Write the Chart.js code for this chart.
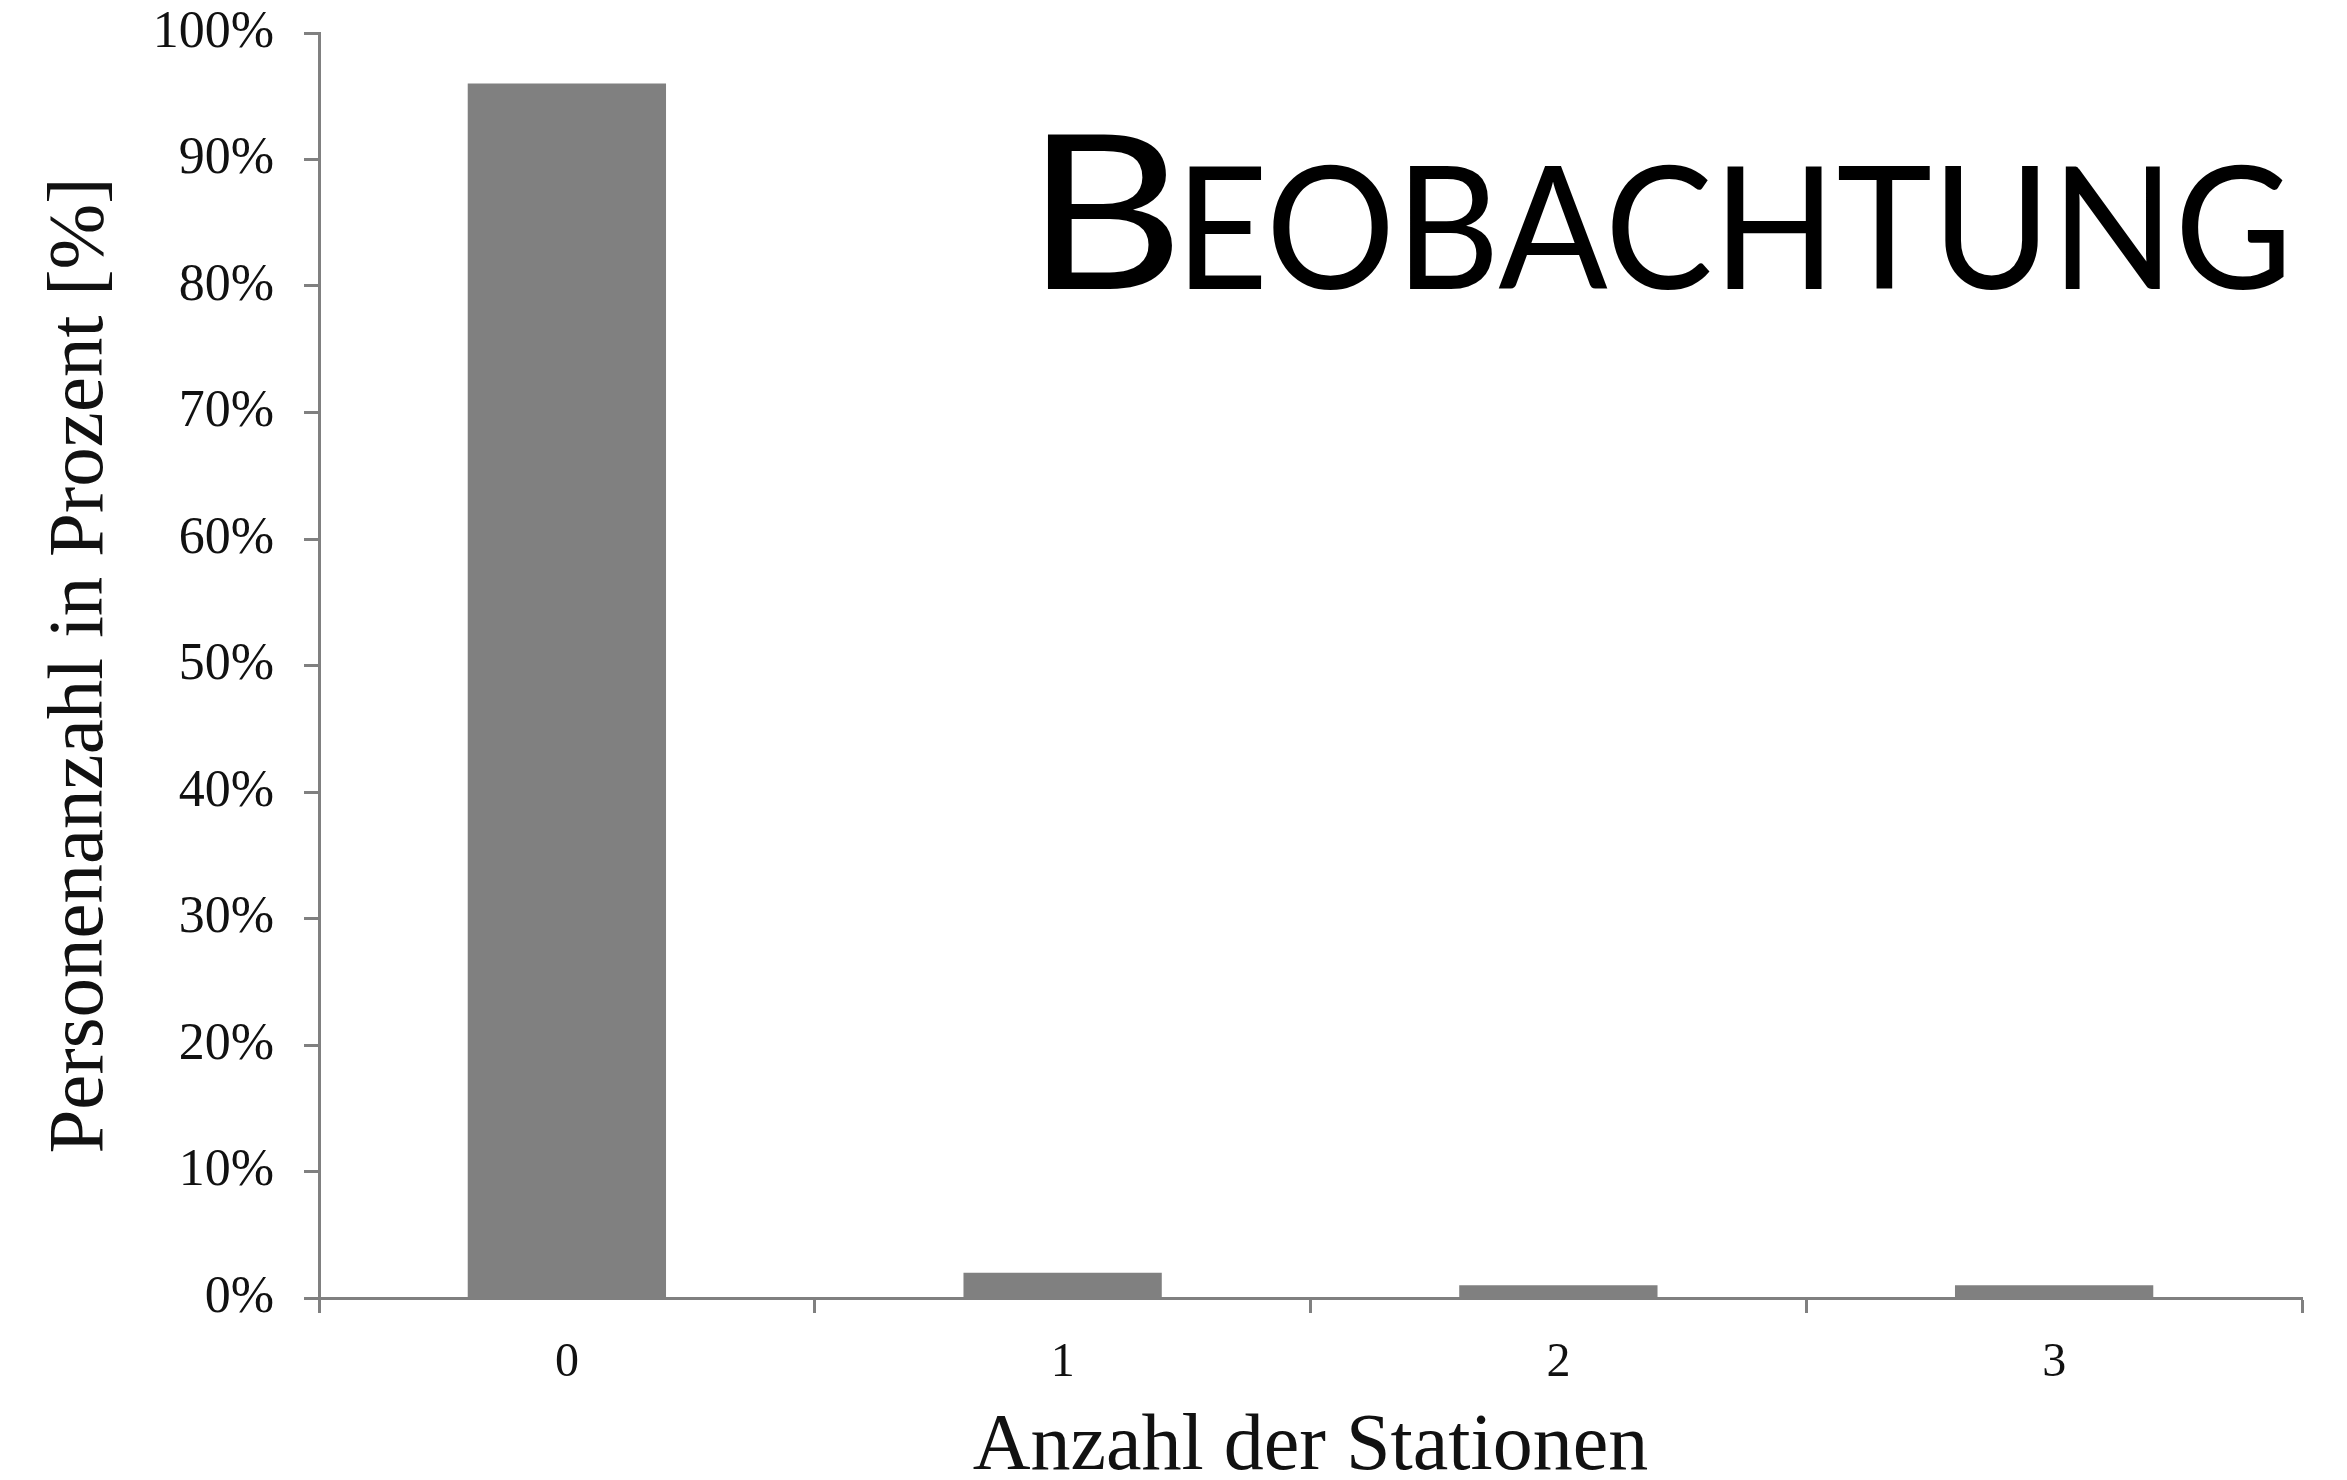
<!DOCTYPE html>
<html>
<head>
<meta charset="utf-8">
<script src="https://cdn.jsdelivr.net/npm/chart.js@4"></script>
<style>
	body { margin: 0; background: white; overflow: hidden; }
	#wrap { width: 2347px; height: 1480px; position: relative; }
</style>
</head>
<body>
<div id="wrap"><canvas id="myChart"></canvas></div>
<script>
//! data
const stationen = ["0", "1", "2", "3"];
const personenProzent = [96, 2, 1, 1];
const yTicks = [0, 10, 20, 30, 40, 50, 60, 70, 80, 90, 100];

const headline = "Beobachtung";

const grey = "#808080";
const serif = "'Liberation Serif', 'Times New Roman', serif";

//! big decorative word in the upper right
const headlinePlugin = {
	id: "headline",
	afterDraw(chart) {
		const ctx = chart.ctx;
		const first = headline[0].toUpperCase();
		const rest = headline.slice(1).toUpperCase();
		const baseline = 289;

		ctx.save();
		ctx.fillStyle = "#000";
		ctx.textBaseline = "alphabetic";
		ctx.textAlign = "left";

		// first letter, tall
		ctx.font = "400 216px Lato, 'Open Sans', sans-serif";
		let m = ctx.measureText(first);
		let w = m.actualBoundingBoxRight + m.actualBoundingBoxLeft;
		ctx.save();
		ctx.translate(1047, baseline);
		ctx.scale(125 / w, 1);
		ctx.fillText(first, m.actualBoundingBoxLeft, 0);
		ctx.restore();

		// remaining letters as small caps
		ctx.font = "400 170px Lato, 'Open Sans', sans-serif";
		m = ctx.measureText(rest);
		w = m.actualBoundingBoxRight + m.actualBoundingBoxLeft;
		ctx.save();
		ctx.translate(1189, baseline);
		ctx.scale(1095 / w, 1);
		ctx.fillText(rest, m.actualBoundingBoxLeft, 0);
		ctx.restore();

		ctx.restore();
	},
};

const data = {
	labels: stationen,
	datasets: [
		{
			label: "Personenanzahl",
			data: personenProzent,
			backgroundColor: grey,
			borderWidth: 0,
			barPercentage: 0.4,
			categoryPercentage: 1,
		},
	],
};

const options = {
	responsive: true,
	maintainAspectRatio: false,
	animation: false,
	layout: {
		padding: { top: 33, right: 45, bottom: 0, left: 0 },
	},
	plugins: {
		legend: { display: false },
		tooltip: { enabled: false },
	},
	scales: {
		x: {
			offset: true,
			grid: {
				offset: true,
				drawOnChartArea: false,
				drawTicks: true,
				tickLength: 15,
				tickColor: grey,
				tickWidth: 3,
			},
			border: { display: true, color: grey, width: 3 },
			ticks: {
				color: "#111",
				padding: 22,
				font: { family: serif, size: 48 },
			},
			title: {
				display: true,
				text: "Anzahl der Stationen",
				color: "#111",
				padding: 0,
				font: { family: serif, size: 80, lineHeight: 0.8 },
			},
			afterFit(scale) {
				scale.height = 182;
			},
		},
		y: {
			min: 0,
			max: 100,
			afterBuildTicks(scale) {
				scale.ticks = yTicks.map((v) => ({ value: v }));
			},
			grid: {
				drawOnChartArea: false,
				drawTicks: true,
				tickLength: 15,
				tickColor: grey,
				tickWidth: 3,
			},
			border: { display: true, color: grey, width: 3 },
			ticks: {
				color: "#111",
				padding: 30,
				// tiny line height so the top label does not push the plot down
				font: { family: serif, size: 52, lineHeight: 0.05 },
				callback: (v) => v + "%",
			},
			title: {
				display: true,
				text: "Personenanzahl in Prozent [%]",
				color: "#111",
				padding: { top: 34, bottom: 0 },
				font: { family: serif, size: 79 },
			},
			afterFit(scale) {
				scale.width = 319;
			},
		},
	},
};

const config = {
	type: "bar",
	data: data,
	options: options,
	plugins: [headlinePlugin],
};

const myChart = new Chart(document.getElementById("myChart"), config);
</script>
</body>
</html>
